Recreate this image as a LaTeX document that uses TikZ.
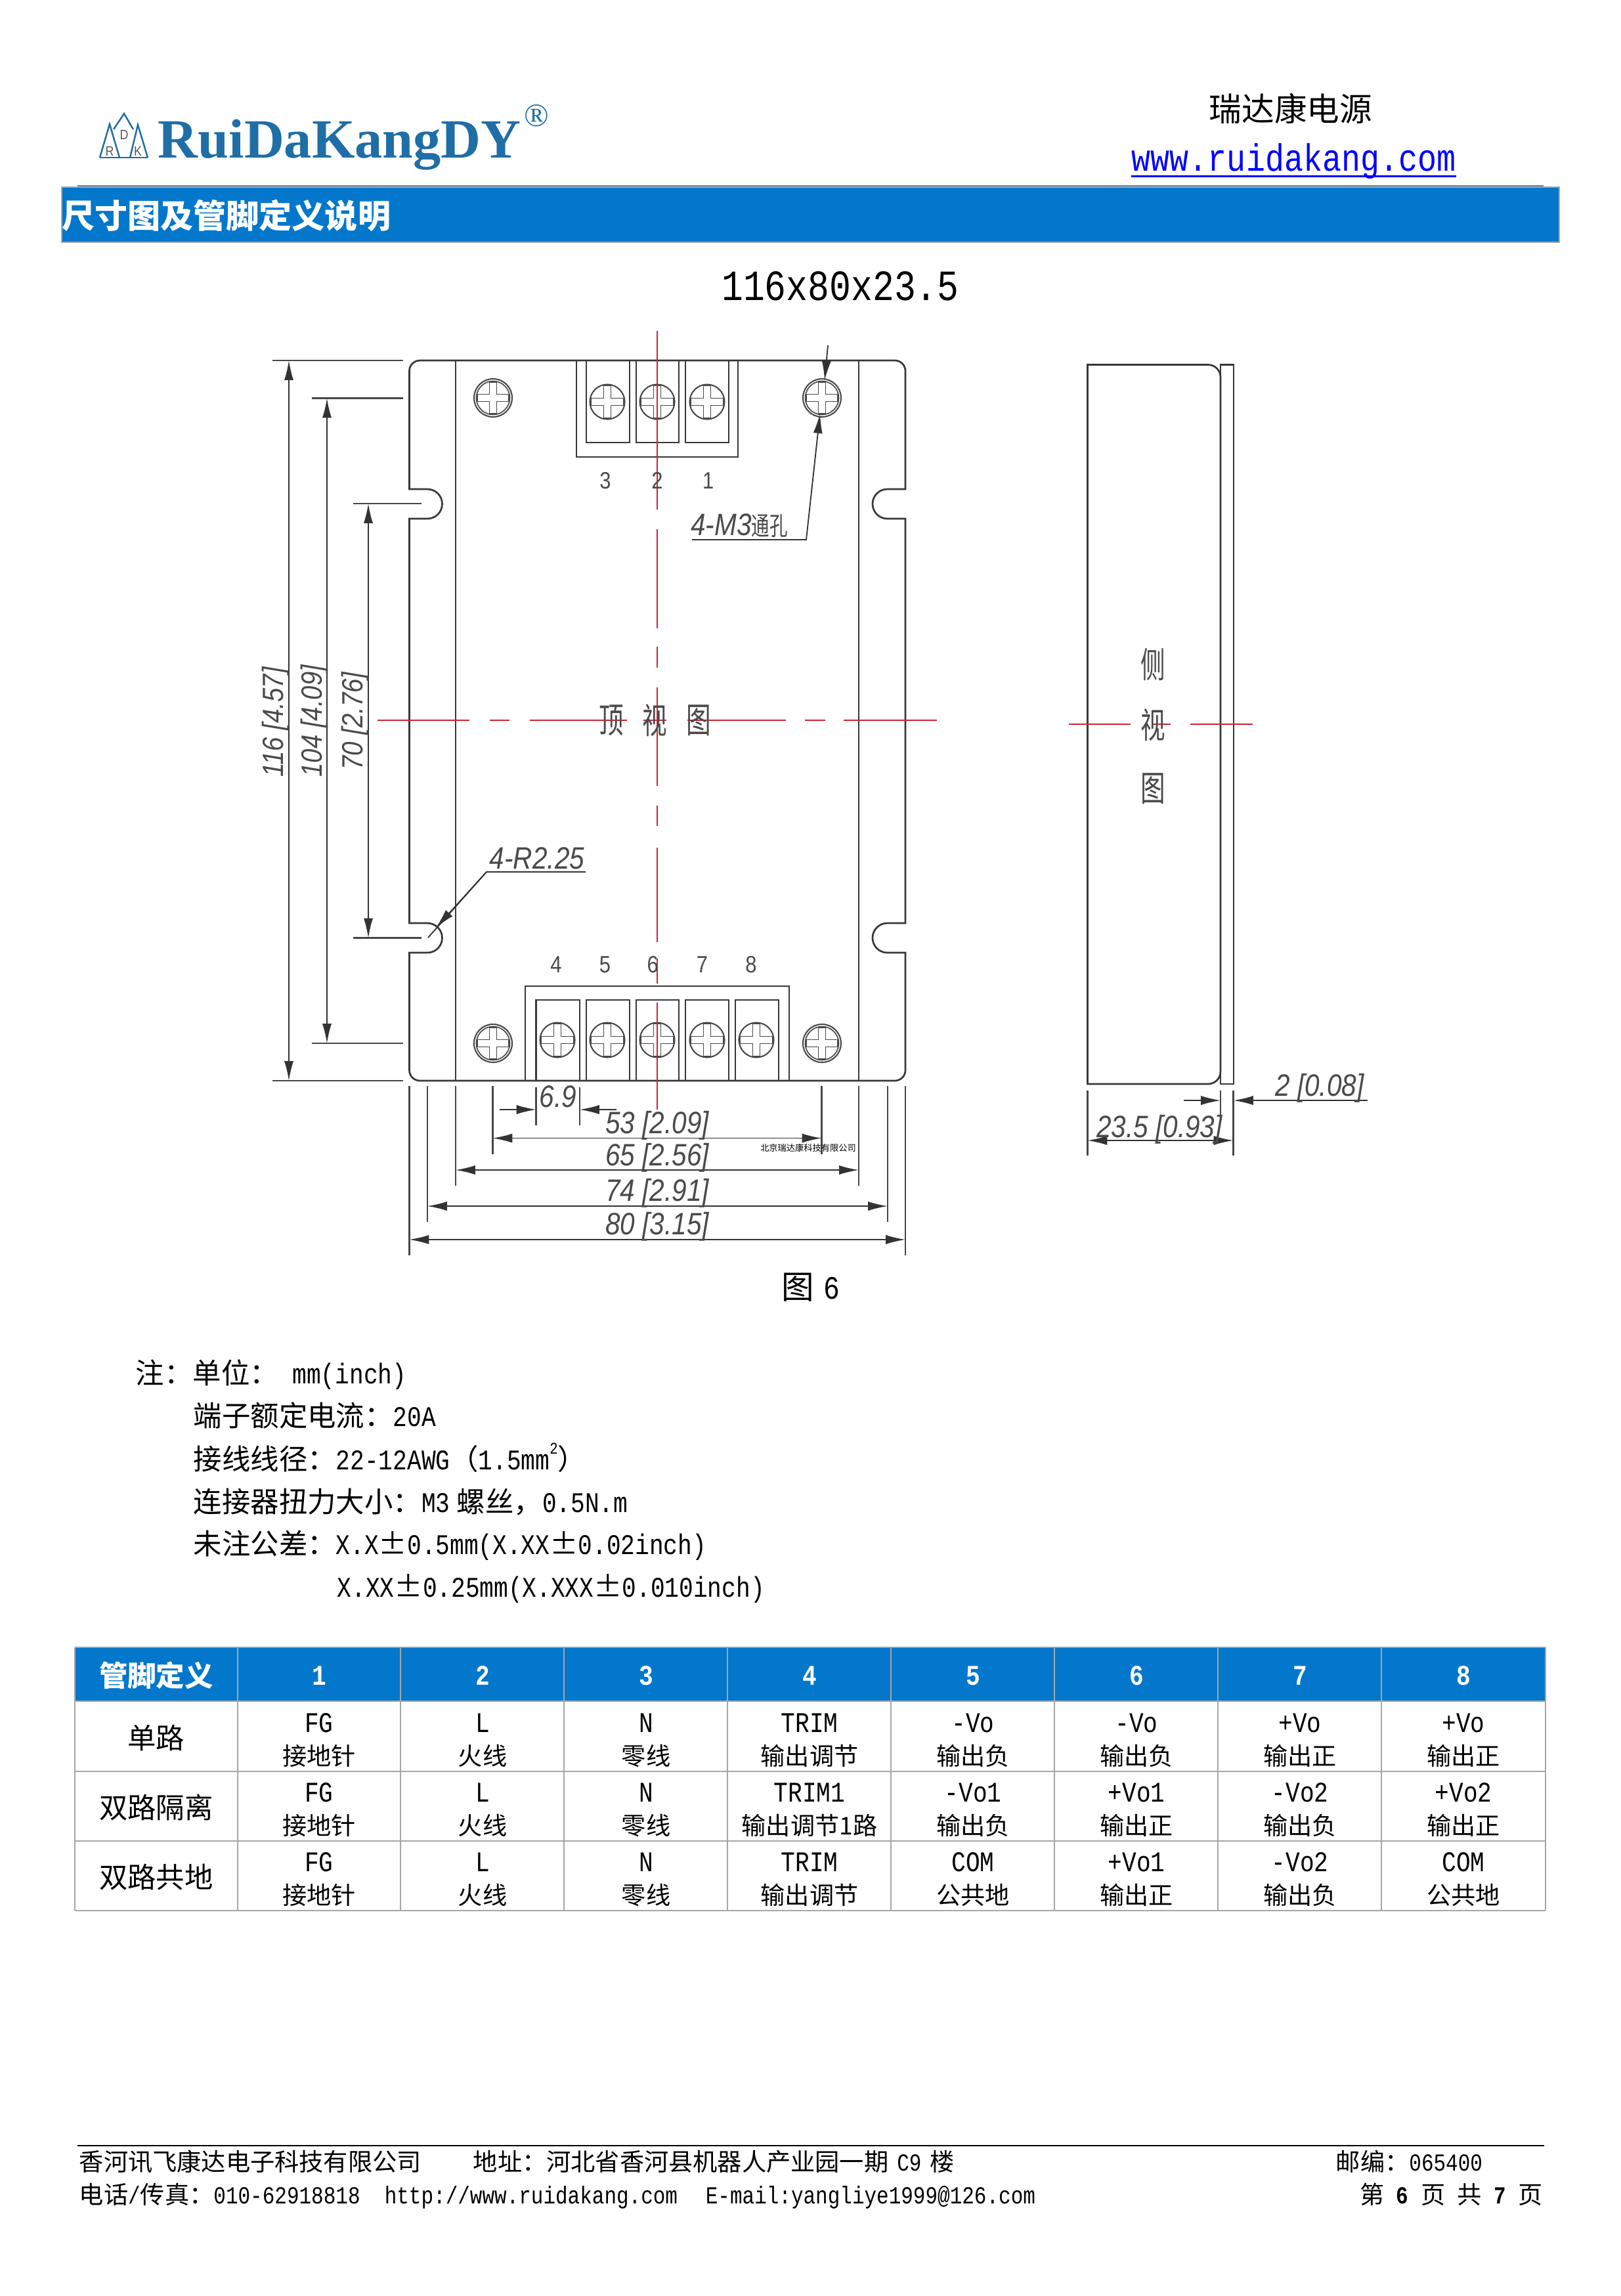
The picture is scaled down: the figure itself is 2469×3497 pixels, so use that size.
\documentclass[tikz,border=0pt]{standalone}
\usepackage{fontspec}
\usepackage{tikz}
\usetikzlibrary{positioning,arrows.meta}

\setmainfont[FakeStretch=.833]{Liberation Mono}
\newfontfamily\cjk{Noto Sans CJK SC}
\newfontfamily\cjkn[FakeStretch=.7]{Noto Sans CJK SC}
\newfontfamily\cadf[FakeStretch=.86]{Liberation Sans}
\newfontfamily\logof{Liberation Serif}
\newcommand{\zh}[1]{{\cjk #1}}
\newcommand{\fs}[1]{\fontsize{#1}{#1}\selectfont}
\newcommand{\pmz}{\makebox[1em]{\cjk ±}}

\definecolor{barblue}{HTML}{0277CC}
\definecolor{logoblue}{HTML}{1F6EA6}
\definecolor{gridgray}{HTML}{A6A6A6}
\definecolor{cadred}{HTML}{CF2233}
\definecolor{cadgray}{HTML}{4A4A4A}

\newcommand{\crossmark}[1]{
  \draw[crossline] (-5.5,-#1) -- (5.5,-#1) -- (5.5,-5.5) -- (#1,-5.5) -- (#1,5.5) -- (5.5,5.5) -- (5.5,#1)
    -- (-5.5,#1) -- (-5.5,5.5) -- (-#1,5.5) -- (-#1,-5.5) -- (-5.5,-5.5) -- cycle;
}

\tikzset{
  every node/.style={inner sep=0pt},
  partline/.style={draw=black!78,line width=.65bp},
  crossline/.style={draw=black!72,line width=.4bp},
  dimline/.style={draw=black!80,line width=.45bp},
  extline/.style={draw=black!72,line width=.55bp},
  redline/.style={draw=cadred,line width=.5bp},
  gridcol/.style={draw=gridgray,line width=.45bp},
  gridrow/.style={draw=gridgray,line width=.7bp},
  dimtext/.style={text=cadgray,font=\cadf\itshape\fs{11.4}},
  dimside/.style={text=cadgray,font=\cadf\itshape\fs{10.8},rotate=90},
  pinlabel/.style={text=cadgray,font=\cadf\fs{8.7}},
  viewlabel/.style={text=cadgray,font=\cjkn\fs{13}},
  notetext/.style={anchor=base west,font=\fs{10.5}},
  headcell/.style={anchor=base,text=white,font=\bfseries\fs{10.5}},
  rowhead/.style={anchor=base,font=\cjk\fs{10.5}},
  celltop/.style={anchor=base,font=\fs{10.5}},
  cellbot/.style={anchor=base,font=\cjk\fs{9}},
  foottext/.style={anchor=base west,font=\fs{9}},
  logoline/.style={draw=logoblue,line width=.6bp},
  logoletter/.style={text=black!65,font=\cadf\fs{5}},
  screwhead/.pic={
    \draw[crossline,line width=.5bp] (0,0) circle (26.5);
    \crossmark{25}
  },
  holehead/.pic={
    \draw[crossline,line width=.5bp] (0,0) circle (29);
    \draw[crossline] (0,0) circle (25.5);
    \crossmark{24}
  }
}

\newcommand{\pinrow}[4]{
  \node[rowhead] (rowname#1) at (238,#3) {#2};
  \foreach \ctop/\cbot [count=\ci] in {#4} {
    \pgfmathsetmacro{\cx}{237+249*\ci}
    \node[celltop] (top#1c\ci) at (\cx,#3-25) {\ctop};
    \node[cellbot] (bot#1c\ci) at (\cx,#3+25) {\cbot};
  }
}

\begin{document}
\begin{tikzpicture}[x=.241bp,y=-.241bp,>={Latex[length=7.2bp,width=3.4bp]}]

  \useasboundingbox (0,0) rectangle (2469,3497);
  \fill[white] (0,0) rectangle (2469,3497);

  \draw[logoline] (152,240) -- (225,240);
  \draw[logoline] (152,240) -- (167,189) -- (182,240);
  \draw[logoline] (225,240) -- (210,190) -- (198,240);
  \draw[logoline] (173,197) -- (189,173) -- (203,197);
  \node[logoletter] (logoR) at (167,230) {R};
  \node[logoletter] (logoD) at (189,205) {D};
  \node[logoletter] (logoK) at (210,230) {K};
  \node[anchor=base west,text=logoblue,font=\logof\bfseries\fs{20.4}] (logo) at (240,240) {RuiDaKangDY};
  \node[text=logoblue,font=\logof\fs{12}] (logoreg) at (817,176) {®};

  \node[anchor=base,font=\cjk\fs{12}] (brand) at (1966,184) {瑞达康电源};
  \node[anchor=base west,text=blue,font=\fs{14.05}] (url) at (1723,260) {www.ruidakang.com};
  \draw[blue,line width=.6bp] ([yshift=-2bp]url.base west) -- ([yshift=-2bp]url.base east);

  \draw[draw=logoblue!80,line width=.7bp] (118,283) -- (2351,283);
  \fill[barblue] (94,285) rectangle (2375,369);
  \draw[gridcol] (94,285) rectangle (2375,369);
  \node[anchor=base west,text=white,font=\cjk\bfseries\fs{12.1}] (bartitle) at (94,347) {尺寸图及管脚定义说明};
  \node[anchor=base,font=\fs{15.9}] (sizetitle) at (1280,457) {116x80x23.5};

  \draw[partline] (623.5,565) arc[start angle=180,end angle=270,radius=16] -- (1363,549)
    arc[start angle=270,end angle=360,radius=16] -- (1379,745) -- (1351.5,745)
    arc[start angle=270,end angle=90,radius=22.5] -- (1379,790) -- (1379,1406) -- (1351.5,1406)
    arc[start angle=270,end angle=90,radius=22.5] -- (1379,1451) -- (1379,1630)
    arc[start angle=0,end angle=90,radius=16] -- (639.5,1646)
    arc[start angle=90,end angle=180,radius=16] -- (623.5,1451) -- (651,1451)
    arc[start angle=90,end angle=-90,radius=22.5] -- (623.5,1406) -- (623.5,790) -- (651,790)
    arc[start angle=90,end angle=-90,radius=22.5] -- (623.5,745) -- cycle;
  \draw[partline] (694,549) -- (694,1646);
  \draw[partline] (1308,549) -- (1308,1646);

  \draw[partline] (878,549) -- (878,696) -- (1124,696) -- (1124,549);
  \foreach \ca/\cb in {893/959,969/1034,1044/1110}
    \draw[partline] (\ca,549) -- (\ca,674) -- (\cb,674) -- (\cb,549);
  \draw[partline] (800,1646) -- (800,1502) -- (1202,1502) -- (1202,1646);
  \foreach \ca/\cb in {816.5/883,893/959,969/1034,1044/1110,1120/1186}
    \draw[partline] (\ca,1646) -- (\ca,1523) -- (\cb,1523) -- (\cb,1646);

  \foreach \sx in {925,1001,1077}
    \pic at (\sx,612) {screwhead};
  \foreach \sx in {849,925,1001,1077,1152}
    \pic at (\sx,1584) {screwhead};
  \foreach \hx/\hy in {751/606,1252/606,751/1589,1252/1589}
    \pic at (\hx,\hy) {holehead};

  \foreach \ya/\yb in {504/776,806/957,985/1017,1047/1197,1227/1258,1291/1435,1460/1498,1527/1690}
    \draw[redline] (1001,\ya) -- (1001,\yb);
  \foreach \xa/\xb in {575/715,746/776,807/955,980/1015,1047/1197,1226/1257,1285/1427}
    \draw[redline] (\xa,1097) -- (\xb,1097);

  \node[pinlabel] (t2) at (1001,732) {2};
  \node[pinlabel] (t3) [left=14.5bp of t2] {3};
  \node[pinlabel] (t1) [right=14.2bp of t2] {1};
  \node[pinlabel] (b4) at (847,1469) {4};
  \node[pinlabel] (b5) [right=13.4bp of b4] {5};
  \node[pinlabel] (b6) [right=13bp of b5] {6};
  \node[pinlabel] (b7) [right=13.6bp of b6] {7};
  \node[pinlabel] (b8) [right=13.4bp of b7] {8};

  \node[viewlabel] (top1) at (931,1097) {顶};
  \node[viewlabel] (top2) at (997,1097) {视};
  \node[viewlabel] (top3) at (1064,1097) {图};

  \draw[extline] (415,549) -- (614,549);
  \draw[extline] (415,1646) -- (614,1646);
  \draw[extline] (475,606.5) -- (614,606.5);
  \draw[extline] (475,1589) -- (614,1589);
  \draw[extline] (538,767) -- (642,767);
  \draw[extline] (538,1428.5) -- (642,1428.5);
  \draw[dimline,<->] (440,549) -- (440,1646);
  \draw[dimline,<->] (498,606.5) -- (498,1589);
  \draw[dimline,<->] (561,767) -- (561,1428.5);
  \node[dimside] (dim116) at (420,1100) {116 [4.57]};
  \node[dimside] (dim104) at (479,1098) {104 [4.09]};
  \node[dimside] (dim70) at (541,1098) {70 [2.76]};

  \draw[extline] (623.5,1654) -- (623.5,1912);
  \draw[extline] (1379,1654) -- (1379,1912);
  \draw[extline] (651,1654) -- (651,1861);
  \draw[extline] (1352,1654) -- (1352,1861);
  \draw[extline] (694,1654) -- (694,1806);
  \draw[extline] (1308,1654) -- (1308,1806);
  \draw[extline] (750.5,1654) -- (750.5,1758);
  \draw[extline] (1251.6,1654) -- (1251.6,1758);
  \draw[extline] (816.5,1656) -- (816.5,1714);
  \draw[extline] (883,1656) -- (883,1714);
  \draw[dimline,<->] (623.5,1888) -- (1379,1888);
  \draw[dimline,<->] (651,1837) -- (1352,1837);
  \draw[dimline,<->] (694,1782) -- (1308,1782);
  \draw[dimline,<->] (750.5,1733.5) -- (1251.6,1733.5);
  \draw[dimline,->] (761,1690) -- (816.5,1690);
  \draw[dimline,->] (939,1690) -- (883,1690);
  \node[dimtext] (dim80) at (1001,1868) {80 [3.15]};
  \node[dimtext] (dim74) at (1001,1817) {74 [2.91]};
  \node[dimtext] (dim65) at (1001,1763) {65 [2.56]};
  \node[dimtext] (dim53) at (1001,1714) {53 [2.09]};
  \node[dimtext] (dim69) at (850,1670) {6.9};
  \node[font=\cjk\fs{3.2}] (maker) at (1231,1748) {北京瑞达康科技有限公司};

  \node[dimtext] (holes) at (1126,801) {4-M3{\upshape\cjkn\fs{9.5}通孔}};
  \draw[dimline,->] (1054,822) -- (1228,822) -- (1249,630);
  \draw[dimline,->] (1261,526) -- (1256,579.5);
  \node[dimtext] (notches) at (818,1307) {4-R2.25};
  \draw[dimline] (892,1328) -- (741,1328) -- (652,1428);
  \draw[dimline,->] (741,1328) -- (664,1413);

  \draw[partline] (1656.5,555.5) -- (1840,555.5) arc[start angle=270,end angle=360,radius=19]
    -- (1859,1632) arc[start angle=0,end angle=90,radius=19] -- (1656.5,1651) -- cycle;
  \draw[partline] (1859,555.5) rectangle (1879,1651);
  \foreach \xa/\xb in {1628/1722,1754/1783,1813/1908}
    \draw[redline] (\xa,1103) -- (\xb,1103);
  \node[viewlabel] (side1) at (1756,1012) {侧};
  \node[viewlabel] (side2) at (1756,1104) {视};
  \node[viewlabel] (side3) at (1756,1201) {图};
  \draw[extline] (1656.5,1661) -- (1656.5,1760);
  \draw[extline] (1878.5,1661) -- (1878.5,1760);
  \draw[extline] (1859,1661) -- (1859,1700);
  \draw[dimline,->] (1803,1676) -- (1859,1676);
  \draw[dimline,->] (2082.5,1676) -- (1879,1676);
  \draw[dimline,<->] (1656.5,1737) -- (1878.5,1737);
  \node[dimtext] (dim2) at (2010,1657) {2 [0.08]};
  \node[dimtext] (dim235) at (1766,1720) {23.5 [0.93]};

  \node[anchor=base west,font=\fs{12}] (figno) at (1190,1978) {\zh{图}\hspace{3.5bp}6};

  \node[notetext] (note1) at (206,2107) {\zh{注：单位：} mm(inch)};
  \node[notetext] (note2) at (294,2172) {\zh{端子额定电流：}20A};
  \node[notetext] (note3) at (294,2238) {\zh{接线线径：}22-12AWG\zh{（}1.5mm\raisebox{.55em}{\fs{6}2}\zh{）}};
  \node[notetext] (note4) at (294,2303) {\zh{连接器扭力大小：}M3\hspace{2.5bp}\zh{螺丝，}0.5N.m};
  \node[notetext] (note5) at (294,2367) {\zh{未注公差：}X.X\pmz 0.5mm(X.XX\pmz 0.02inch)};
  \node[notetext] (note6) at (513,2432) {X.XX\pmz 0.25mm(X.XXX\pmz 0.010inch)};

  \fill[barblue] (114,2509) rectangle (2354,2591);
  \foreach \gx in {114,362,610,859,1108,1357,1606,1855,2104,2354}
    \draw[gridcol] (\gx,2509) -- (\gx,2910);
  \foreach \gy in {2509,2591,2698,2804,2910}
    \draw[gridrow] (114,\gy) -- (2354,\gy);

  \node[headcell] (headname) at (238,2568) {\zh{管脚定义}};
  \foreach \hn in {1,...,8} {
    \pgfmathsetmacro{\cx}{237+249*\hn}
    \node[headcell] (head\hn) at (\cx,2566) {\hn};
  }

  \pinrow{1}{单路}{2663}{FG/接地针,L/火线,N/零线,TRIM/输出调节,-Vo/输出负,-Vo/输出负,+Vo/输出正,+Vo/输出正}
  \pinrow{2}{双路隔离}{2769}{FG/接地针,L/火线,N/零线,TRIM1/输出调节1路,-Vo1/输出负,+Vo1/输出正,-Vo2/输出负,+Vo2/输出正}
  \pinrow{3}{双路共地}{2875}{FG/接地针,L/火线,N/零线,TRIM/输出调节,COM/公共地,+Vo1/输出正,-Vo2/输出负,COM/公共地}

  \draw[black,line width=.7bp] (118,3268) -- (2352,3268);
  \node[foottext] (company) at (120,3306) {\zh{香河讯飞康达电子科技有限公司}};
  \node[foottext] (address) at (720,3306) {\zh{地址：河北省香河县机器人产业园一期}\hspace{.35em}C9\hspace{.35em}\zh{楼}};
  \node[foottext] (postcode) at (2034,3306) {\zh{邮编：}065400};
  \node[foottext] (contact) at (120,3356) {\zh{电话}\makebox[.5em]{/}\zh{传真：}010-62918818\hspace{1em}http://www.ruidakang.com\hspace{1.15em}E-mail:yangliye1999@126.com};
  \node[foottext,anchor=base east] (pageno) at (2351,3356) {\zh{第}\hspace{.5em}\textbf{6}\hspace{.5em}\zh{页}\hspace{.5em}\zh{共}\hspace{.5em}\textbf{7}\hspace{.5em}\zh{页}};

\end{tikzpicture}
\end{document}
